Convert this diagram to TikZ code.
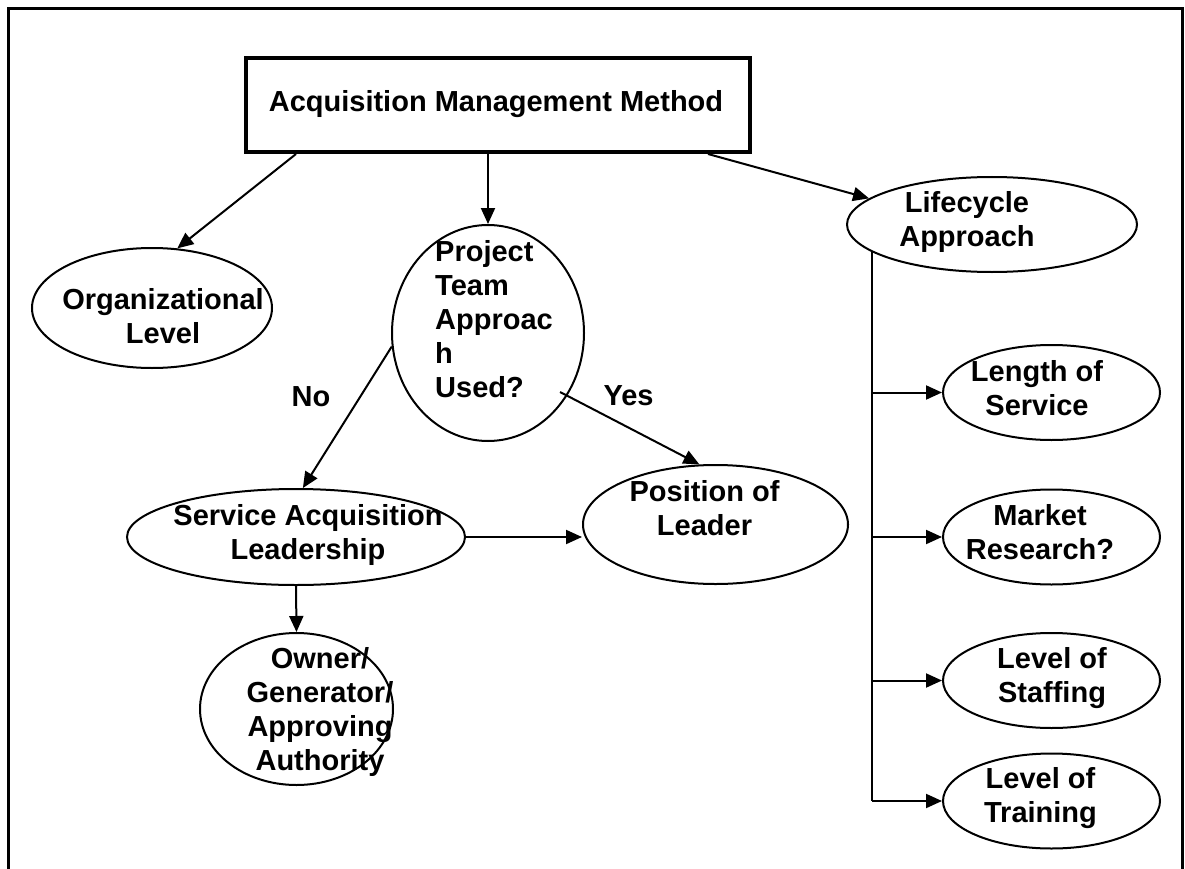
\documentclass[tikz,border=0pt]{standalone}
\usepackage{fontspec}
\setmainfont{Liberation Sans}
\usetikzlibrary{shapes.geometric,arrows.meta,positioning}
\tikzset{
  ell/.style={ellipse, draw, line width=2pt, inner sep=0pt},
  txt/.style={font=\fontsize{29}{34}\selectfont\bfseries, inner sep=0pt, align=center},
  arr/.style={-{Triangle[length=16pt,width=14pt]}, line width=2pt},
}
\begin{document}
\begin{tikzpicture}[x=1pt,y=1pt]
  \useasboundingbox (0,0) rectangle (1185,-869);
  % outer frame, open at the bottom
  \draw[line width=3pt] (8,-869) -- (8,-9) -- (1182,-9) -- (1182,-869);
  % top box
  \node[draw, line width=4pt, minimum width=504pt, minimum height=94pt, inner sep=0pt] (amm) at (498,-105) {};
  \node[txt, anchor=base] (ammtext) at (496,-112) {Acquisition Management Method};
  % ellipses
  \node[ell, minimum width=240pt, minimum height=120pt] (org) at (152,-308) {};
  \node[ell, minimum width=192pt, minimum height=216pt] (proj) at (488,-333) {};
  \node[ell, minimum width=338pt, minimum height=96pt] (serv) at (296,-537) {};
  \node[ell, minimum width=265pt, minimum height=119pt] (pos) at (715.5,-524.5) {};
  \node[ell, minimum width=193pt, minimum height=152pt] (own) at (296.5,-709) {};
  \node[ell, minimum width=290pt, minimum height=95pt] (lc) at (992,-224.5) {};
  \foreach \n/\y in {los/392.5, mkt/537, stf/680.5, trn/801}
    \node[ell, minimum width=217pt, minimum height=95pt] (\n) at (1051.5,-\y) {};
  % texts
  \node[txt] (orgtext) at (163,-316.5) {Organizational\\Level};
  \node[txt, align=left] (projtext) at (494,-319.5) {Project\\Team\\Approac\\h\\Used?};
  \node[txt] (servtext) at (308,-534.5) {Service Acquisition\\Leadership};
  \node[txt] (owntext) at (320,-711.5) {Owner/\\Generator/\\Approving\\Authority};
  \node[txt] (postext) at (704.5,-508.5) {Position of\\Leader};
  \node[txt] (lctext) at (967,-222.5) {Lifecycle\\Approach};
  \node[txt] (lostext) at (1037,-388.5) {Length of\\Service};
  \node[txt] (mkttext) at (1040,-532.5) {Market\\Research?};
  \node[txt] (stftext) at (1052,-678.5) {Level of\\Staffing};
  \node[txt] (trntext) at (1040.5,-798.5) {Level of\\Training};
  \node[txt, anchor=base] (no) at (311,-406) {No};
  \node[txt, anchor=base] (yes) at (628.5,-405) {Yes};
  % connectors
  \draw[arr] ([xshift=-202pt]amm.south) -- (org.67);
  \draw[arr] (proj.north |- amm.south) -- (proj.north);
  \draw[arr] ([xshift=210pt]amm.south) -- (lc.168);
  \draw[arr] (proj.188) -- (serv.82);
  \draw[arr] ([shift={(72,-59)}]proj.center) -- (pos.105);
  \draw[arr] (serv.east) -- (serv.east -| pos.west);
  \draw[arr] (serv.south) -- (own.north);
  % lifecycle branches
  \draw[line width=2pt] (lc.193) -- (lc.193 |- trn.west);
  \foreach \n in {los,mkt,stf,trn}
    \draw[arr] (lc.193 |- \n.west) -- (\n.west);
\end{tikzpicture}
\end{document}
